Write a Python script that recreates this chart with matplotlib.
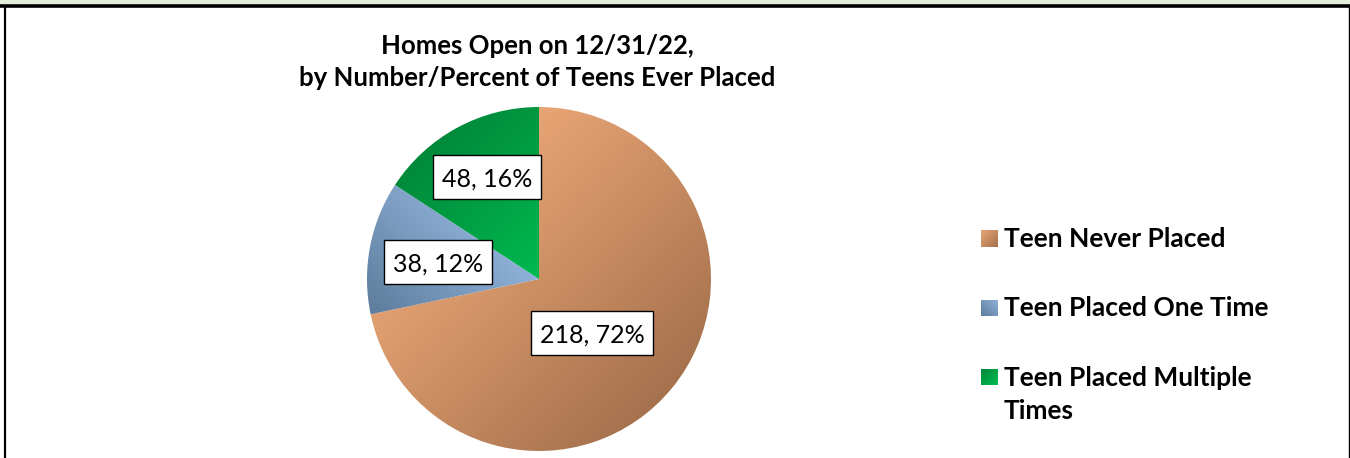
import numpy as np
import matplotlib
matplotlib.use("Agg")
import matplotlib.pyplot as plt
from matplotlib.colors import LinearSegmentedColormap
from matplotlib.patches import Rectangle
from matplotlib.lines import Line2D

# ---- data ----
categories = ["Teen Never Placed", "Teen Placed One Time", "Teen Placed Multiple Times"]
legend_labels = ["Teen Never Placed", "Teen Placed One Time", "Teen Placed Multiple\nTimes"]
counts = [218, 38, 48]
pct_labels = ["72%", "12%", "16%"]
title = "Homes Open on 12/31/22,\nby Number/Percent of Teens Ever Placed"

# gradient colours (first/second) and direction per slice
grad_colors = [("#E8A575", "#A5714D"), ("#8FB0D8", "#5E7D9C"), ("#00893A", "#00B950")]
grad_dirs = [(1, -1), (-1, -1), (1, -1)]

W, H, DPI = 1350, 458, 100
fig = plt.figure(figsize=(W / DPI, H / DPI), dpi=DPI)
fig.patch.set_facecolor("white")
FONT = "Lato"

# frame
fig.add_artist(Rectangle((0, 1 - 4 / H), 1, 4 / H, transform=fig.transFigure,
                         facecolor="#E2EFDA", edgecolor="none"))
fig.add_artist(Line2D([0, 1], [1 - 5.5 / H, 1 - 5.5 / H], transform=fig.transFigure,
                      color="black", lw=2.6))
fig.add_artist(Line2D([5.5 / W, 5.5 / W], [0, 1 - 5.5 / H], transform=fig.transFigure,
                      color="black", lw=1.6))
fig.add_artist(Line2D([1348.5 / W, 1348.5 / W], [0, 1 - 5.5 / H], transform=fig.transFigure,
                      color="black", lw=1.0))

# title
fig.text(537 / W, 1 - 62 / H, title, ha="center", va="center", fontsize=18.5,
         fontweight="bold", family=FONT, linespacing=1.38)

# pie
cx, cy, r = 539, 279, 172
ax = fig.add_axes([(cx - r) / W, (H - cy - r) / H, 2 * r / W, 2 * r / H])
wedges, _ = ax.pie(counts, startangle=90, counterclock=False, radius=1,
                   wedgeprops=dict(linewidth=0))
ax.set_xlim(-1, 1)
ax.set_ylim(-1, 1)
ax.axis("off")

yy, xx = np.mgrid[1:-1:400j, -1:1:400j]
for w, (c1, c2), (dx, dy) in zip(wedges, grad_colors, grad_dirs):
    w.set_facecolor("none")
    verts = w.get_path().vertices
    proj_pts = verts[:, 0] * dx + verts[:, 1] * dy
    pmin, pmax = proj_pts.min(), proj_pts.max()
    t = np.clip((xx * dx + yy * dy - pmin) / (pmax - pmin), 0, 1)
    cmap = LinearSegmentedColormap.from_list("g", [c1, c2])
    im = ax.imshow(t, extent=(-1, 1, -1, 1), cmap=cmap, vmin=0, vmax=1,
                   interpolation="bilinear", zorder=1)
    im.set_clip_path(w)

# data labels with boxes (box sized from the text extent)
label_pos = [(592, 333), (438, 262), (487, 177)]
texts = []
for (px, py), n, p in zip(label_pos, counts, pct_labels):
    t = fig.text(px / W, 1 - py / H, f"{n}, {p}", ha="center", va="center_baseline",
                 fontsize=18, family=FONT, zorder=5)
    texts.append(t)
renderer = fig.canvas.get_renderer()
for t, (px, py) in zip(texts, label_pos):
    bb = t.get_window_extent(renderer)
    bw = bb.width + 18
    bh = 44
    fig.add_artist(Rectangle(((px - bw / 2) / W, 1 - (py + bh / 2) / H), bw / W, bh / H,
                             transform=fig.transFigure, facecolor="white",
                             edgecolor="black", linewidth=1.0, zorder=4))

# legend (manual, gradient swatches)
leg_y = [239, 308, 377]
for ly, lab, (c1, c2), (dx, dy) in zip(leg_y, legend_labels, grad_colors, grad_dirs):
    sax = fig.add_axes([981 / W, 1 - (ly + 8.5) / H, 17 / W, 17 / H])
    sy, sx = np.mgrid[1:-1:20j, -1:1:20j]
    tt = sx * dx + sy * dy
    tt = (tt - tt.min()) / (tt.max() - tt.min())
    sax.imshow(tt, cmap=LinearSegmentedColormap.from_list("g", [c1, c2]),
               extent=(0, 1, 0, 1), aspect="auto", interpolation="bilinear")
    sax.axis("off")
    if "\n" in lab:
        fig.text(1004 / W, 1 - (ly + 17.5) / H, lab, ha="left", va="center",
                 fontsize=19, fontweight="bold", family=FONT, linespacing=1.48)
    else:
        fig.text(1004 / W, 1 - ly / H, lab, ha="left", va="center",
                 fontsize=19, fontweight="bold", family=FONT)

fig.savefig("out.png", dpi=DPI)
